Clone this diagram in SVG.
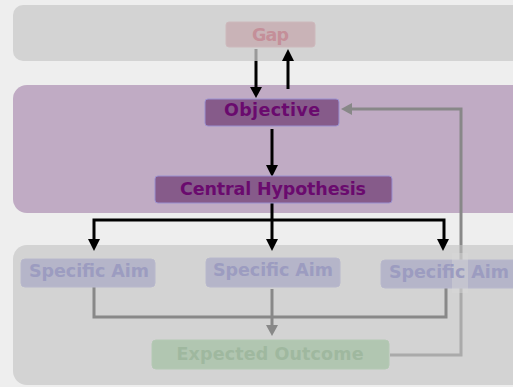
<svg xmlns="http://www.w3.org/2000/svg" width="513" height="387" viewBox="0 0 513 387">
<style>
text{font-family:"DejaVu Sans","Liberation Sans",sans-serif;font-weight:bold;font-size:17.5px;text-anchor:middle}
.cl{stroke:none}
.n{stroke-width:1}
.blk{stroke:#000;stroke-width:3;fill:none}
.gry{stroke:#888;stroke-width:3;fill:none}
</style>
<rect width="513" height="387" fill="#eeeeee"/>
<g id="cluster-top"><rect class="cl" x="13" y="5" width="520" height="56" rx="10" fill="#d3d3d3"/></g>
<g id="cluster-mid"><rect class="cl" x="13" y="85" width="520" height="128" rx="14" fill="#c0abc4"/></g>
<g id="cluster-bottom"><rect class="cl" x="13" y="245" width="520" height="140" rx="14" fill="#d3d3d3"/></g>
<g id="connectors">
<line x1="256" y1="49" x2="256" y2="61" stroke="#999" stroke-width="3"/>
<path d="M256,61 V88" class="blk"/><path d="M250,87 L262,87 L256,98 Z" fill="#000"/>
<path d="M288,89 V60" class="blk"/><path d="M282,61 L294,61 L288,49 Z" fill="#000"/>
<path d="M272,129 V166" class="blk"/><path d="M266,165 L278,165 L272,177 Z" fill="#000"/>
<path d="M272,203 V220 M94,240 V220 H444 V240 M272,220 V240" class="blk"/>
<path d="M88,239 L100,239 L94,251 Z" fill="#000"/>
<path d="M266,239 L278,239 L272,251 Z" fill="#000"/>
<path d="M437,239 L449,239 L443,251 Z" fill="#000"/>
<path d="M94,287 V317 H446 V287" class="gry"/>
<path d="M272,289 V326" class="gry"/><path d="M266,325 L278,325 L272,336 Z" fill="#888"/>
<path d="M390,355 H461 V245" stroke="#aaa" stroke-width="3" fill="none"/>
<path d="M461,245 V109 H351" class="gry"/><path d="M352,103 L352,115 L341,109 Z" fill="#888"/>
</g>
<g id="gap"><rect class="n" x="226" y="22" width="89" height="25" rx="3" fill="#c9b3b7" stroke="#cdb9bc"/><text x="270.5" y="41" fill="#c48f99" textLength="37">Gap</text></g>
<g id="objective"><rect class="n" x="205" y="99" width="134" height="27" rx="3" fill="#865b8a" stroke="#9a90d0"/><text x="272" y="116" fill="#6a0a6e" textLength="96">Objective</text></g>
<g id="hypothesis"><rect class="n" x="155" y="176" width="237" height="27" rx="3" fill="#865b8a" stroke="#9a90d0"/><text x="273" y="195" fill="#6a0a6e" textLength="186">Central Hypothesis</text></g>
<g id="aim1"><rect class="n" x="21" y="259" width="134" height="28" rx="4" fill="#b5b5c9" stroke="#b8b8cc"/><text x="89" y="277" fill="#9c9cc0" textLength="120">Specific Aim</text></g>
<g id="aim2"><rect class="n" x="206" y="258" width="134" height="29" rx="4" fill="#b5b5c9" stroke="#b8b8cc"/><text x="273" y="276" fill="#9c9cc0" textLength="120">Specific Aim</text></g>
<g id="aim3"><rect class="n" x="381" y="260" width="140" height="28" rx="4" fill="#b5b5c9" stroke="#b8b8cc"/><rect x="452" y="253" width="16" height="40" fill="#d8d8d8" opacity="0.45"/><text x="449" y="278" fill="#9c9cc0" textLength="120">Specific Aim</text></g>
<g id="outcome"><rect class="n" x="152" y="340" width="237" height="29" rx="4" fill="#b1c6b1" stroke="#b4c9b4"/><text x="270" y="360" fill="#9fb89f" textLength="187">Expected Outcome</text></g>
</svg>
